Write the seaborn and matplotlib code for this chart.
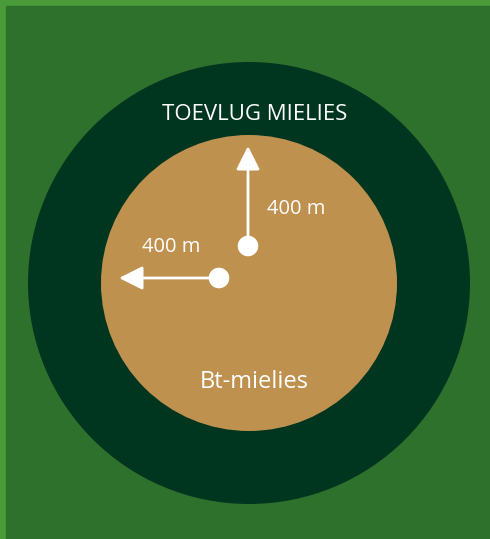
import matplotlib
matplotlib.use("Agg")
import matplotlib.pyplot as plt
import matplotlib.patches as mpatches
import seaborn as sns
import pandas as pd

# zones (outer -> inner) and their radius in pixels
zones = ["TOEVLUG MIELIES", "Bt-mielies"]
zone_radius = [221, 148]
zone_colors = ["#003520", "#bf914f"]

# distance arrows: start point, direction, label
dist_labels = ["400 m", "400 m"]
dist_start_x = [248, 219]
dist_start_y = [246, 278]
dist_dx = [0, -100]
dist_dy = [-100, 0]

sns.set_theme(style="white")
plt.rcParams["font.family"] = ["Open Sans", "DejaVu Sans"]

fig = plt.figure(figsize=(4.9, 5.39), dpi=100, facecolor="#4c9b3b")
ax = fig.add_axes([0, 0, 1, 1])
ax.set_xlim(0, 490)
ax.set_ylim(539, 0)
ax.set_aspect("equal")
ax.axis("off")

# field background, light strip on top/left
ax.add_patch(mpatches.Rectangle((6, 6), 490, 539, color="#2d712d", zorder=0))

cx, cy = 249, 283
for r, c in zip(zone_radius, zone_colors):
    ax.add_patch(mpatches.Circle((cx, cy), r, color=c, zorder=1, lw=0))

# arrows
for x, y, dx, dy in zip(dist_start_x, dist_start_y, dist_dx, dist_dy):
    ax.annotate("", xy=(x + dx, y + dy), xytext=(x, y),
                arrowprops=dict(arrowstyle="-|>,head_length=1.2,head_width=0.6",
                                color="white", lw=2, shrinkA=0, shrinkB=0),
                zorder=3)

dots = pd.DataFrame({"x": dist_start_x, "y": dist_start_y})
sns.scatterplot(data=dots, x="x", y="y", ax=ax, s=220, color="white",
                edgecolor="none", zorder=4)
ax.set_xlabel("")
ax.set_ylabel("")

ax.text(296, 209, dist_labels[0], color="white", fontsize=14.5, ha="center", va="center")
ax.text(171, 247, dist_labels[1], color="white", fontsize=14.5, ha="center", va="center")

ax.text(255, 115, zones[0], color="white", fontsize=16, ha="center", va="center")
ax.text(254, 382, zones[1], color="white", fontsize=17, ha="center", va="center")

fig.savefig("out.png", dpi=100, facecolor=fig.get_facecolor())
